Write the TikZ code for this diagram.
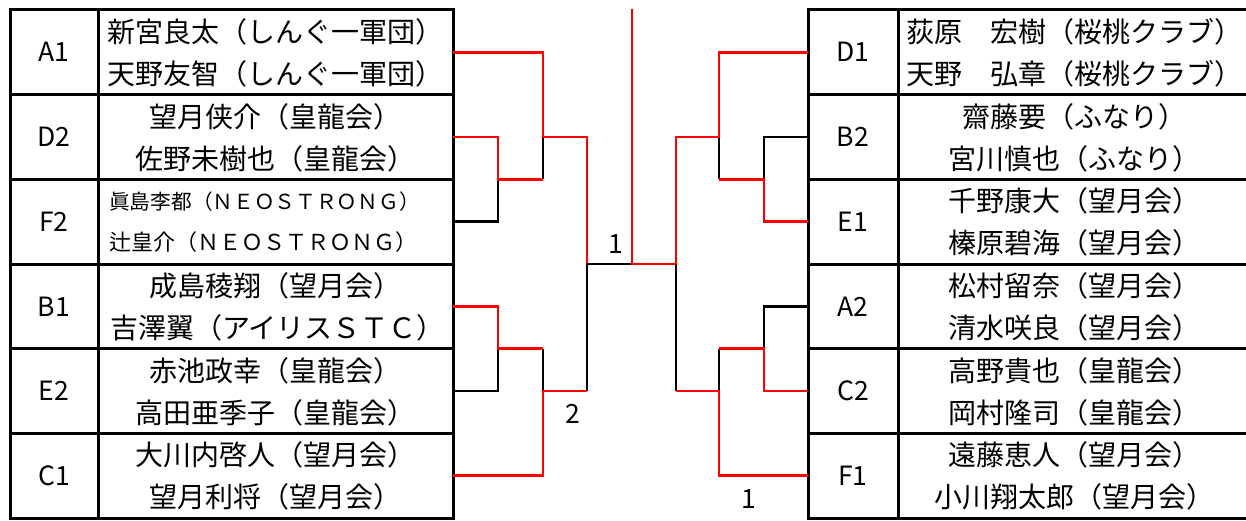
\documentclass[tikz,border=0pt]{standalone}
\usepackage{fontspec}
\setmainfont{Noto Sans CJK JP}
\begin{document}
\begin{tikzpicture}[x=1pt,y=-1pt,
  tbl/.style={line width=3pt},
  redln/.style={draw=red, line width=2.8pt, line join=miter},
  blkln/.style={draw=black, line width=2.8pt, line join=miter},
  nm/.style={inner sep=0pt, anchor=base, font=\fontsize{28}{30}\selectfont},
  nml/.style={nm, anchor=base west},
  lbl/.style={inner sep=0pt, anchor=base, font=\fontsize{26.5}{28}\selectfont},
  sm/.style={inner sep=0pt, anchor=base west}]
\useasboundingbox (0,0) rectangle (1246,521);
\fill[white] (0,0) rectangle (1246,521);
\begin{scope}
\clip (0,0) rectangle (1246,521);
% ---------- tables ----------
\draw[tbl] (10,10) rectangle (453,518);
\draw[tbl] (98,10) -- (98,518);
\foreach \t in {94.67,179.33,264,348.67,433.33}{\draw[tbl] (10,\t) -- (453,\t);}
\draw[tbl] (808,10) rectangle (1250,518);
\draw[tbl] (898,10) -- (898,518);
\foreach \t in {94.67,179.33,264,348.67,433.33}{\draw[tbl] (808,\t) -- (1250,\t);}
\end{scope}
% ---------- left labels ----------
\node[lbl] (lA1) at (54,62) {A1};
\node[lbl] (lD2) at (54,146.7) {D2};
\node[lbl] (lF2) at (54,231.3) {F2};
\node[lbl] (lB1) at (54,316) {B1};
\node[lbl] (lE2) at (54,400.7) {E2};
\node[lbl] (lC1) at (54,485.3) {C1};
% ---------- left names ----------
\node[nml] (a1a) at (107,42.6) {新宮良太（しんぐ一軍団）};
\node[nml] (a1b) at (107,84.6) {天野友智（しんぐ一軍団）};
\node[nm] (d2a) at (275,127.3) {望月侠介（皇龍会）};
\node[nm] (d2b) at (275,169.3) {佐野未樹也（皇龍会）};
\node[sm, font=\fontsize{20.7}{22}\selectfont] (f2a) at (109,210) {眞島李都（ＮＥＯＳＴＲＯＮＧ）};
\node[sm, font=\fontsize{22}{24}\selectfont] (f2b) at (109,251) {辻皇介（ＮＥＯＳＴＲＯＮＧ）};
\node[nm] (b1a) at (275,296.6) {成島稜翔（望月会）};
\node[nml] (b1b) at (110,338.6) {吉澤翼（アイリスＳＴＣ）};
\node[nm] (e2a) at (275,381.3) {赤池政幸（皇龍会）};
\node[nm] (e2b) at (275,423.3) {高田亜季子（皇龍会）};
\node[nm] (c1a) at (275,465.9) {大川内啓人（望月会）};
\node[nm] (c1b) at (275,507.9) {望月利将（望月会）};
% ---------- right labels ----------
\node[lbl] (lD1) at (853,62) {D1};
\node[lbl] (lB2) at (853,146.7) {B2};
\node[lbl] (lE1) at (853,231.3) {E1};
\node[lbl] (lA2) at (853,316) {A2};
\node[lbl] (lC2) at (853,400.7) {C2};
\node[lbl] (lF1) at (853,485.3) {F1};
% ---------- right names ----------
\node[nml] (d1a) at (906,42.6) {荻原　宏樹（桜桃クラブ）};
\node[nml] (d1b) at (906,84.6) {天野　弘章（桜桃クラブ）};
\node[nm] (b2a) at (1074,127.3) {齋藤要（ふなり）};
\node[nm] (b2b) at (1074,169.3) {宮川慎也（ふなり）};
\node[nm] (e1a) at (1074,212) {千野康大（望月会）};
\node[nm] (e1b) at (1074,254) {榛原碧海（望月会）};
\node[nm] (a2a) at (1074,296.6) {松村留奈（望月会）};
\node[nm] (a2b) at (1074,338.6) {清水咲良（望月会）};
\node[nm] (c2a) at (1074,381.3) {高野貴也（皇龍会）};
\node[nm] (c2b) at (1074,423.3) {岡村隆司（皇龍会）};
\node[nm] (f1a) at (1074,465.9) {遠藤恵人（望月会）};
\node[nm] (f1b) at (1074,507.9) {小川翔太郎（望月会）};
% ---------- bracket coordinates ----------
\coordinate (eA1) at (453,52.3);  \coordinate (eD2) at (453,137);
\coordinate (eF2) at (453,221.7); \coordinate (eB1) at (453,306.3);
\coordinate (eE2) at (453,391);   \coordinate (eC1) at (453,475.7);
\coordinate (eD1) at (808,52.3);  \coordinate (eB2) at (808,137);
\coordinate (eE1) at (808,221.7); \coordinate (eA2) at (808,306.3);
\coordinate (eC2) at (808,391);   \coordinate (eF1) at (808,475.7);
\coordinate (top) at (632,9);
% ---------- black (losing) lines ----------
\draw[blkln] (eF2) -- (498,221.7) -- (498,179.3);
\draw[blkln] (543,137) -- (543,179.3);
\draw[blkln] (eE2) -- (498,391) -- (498,348.7);
\draw[blkln] (543,348.7) -- (543,391);
\draw[blkln] (632,264) -- (587,264) -- (587,391);
\draw[blkln] (eB2) -- (764,137) -- (764,179.3);
\draw[blkln] (719,137) -- (719,179.3);
\draw[blkln] (eA2) -- (764,306.3) -- (764,348.7);
\draw[blkln] (719,348.7) -- (719,391);
\draw[blkln] (676,264) -- (676,391);
% ---------- red (winning) lines ----------
\draw[redln] (eA1) -- (543,52.3) -- (543,137) -- (587,137) -- (587,262.6);
\draw[redln] (eD2) -- (498,137) -- (498,179.3) -- (543,179.3);
\draw[redln] (eB1) -- (498,306.3) -- (498,348.7) -- (543,348.7);
\draw[redln] (eC1) -- (543,475.7) -- (543,391) -- (587,391);
\draw[redln] (top) -- (632,264) -- (676,264);
\draw[redln] (eD1) -- (719,52.3) -- (719,137) -- (676,137) -- (676,264);
\draw[redln] (eE1) -- (764,221.7) -- (764,179.3) -- (719,179.3);
\draw[redln] (eC2) -- (764,391) -- (764,348.7) -- (719,348.7);
\draw[redln] (eF1) -- (719,475.7) -- (719,391) -- (676,391);
% ---------- scores ----------
\node[lbl] (s1) at (616,253) {1};
\node[lbl] (s2) at (573,423) {2};
\node[lbl] (s3) at (749,508) {1};
\end{tikzpicture}
\end{document}
